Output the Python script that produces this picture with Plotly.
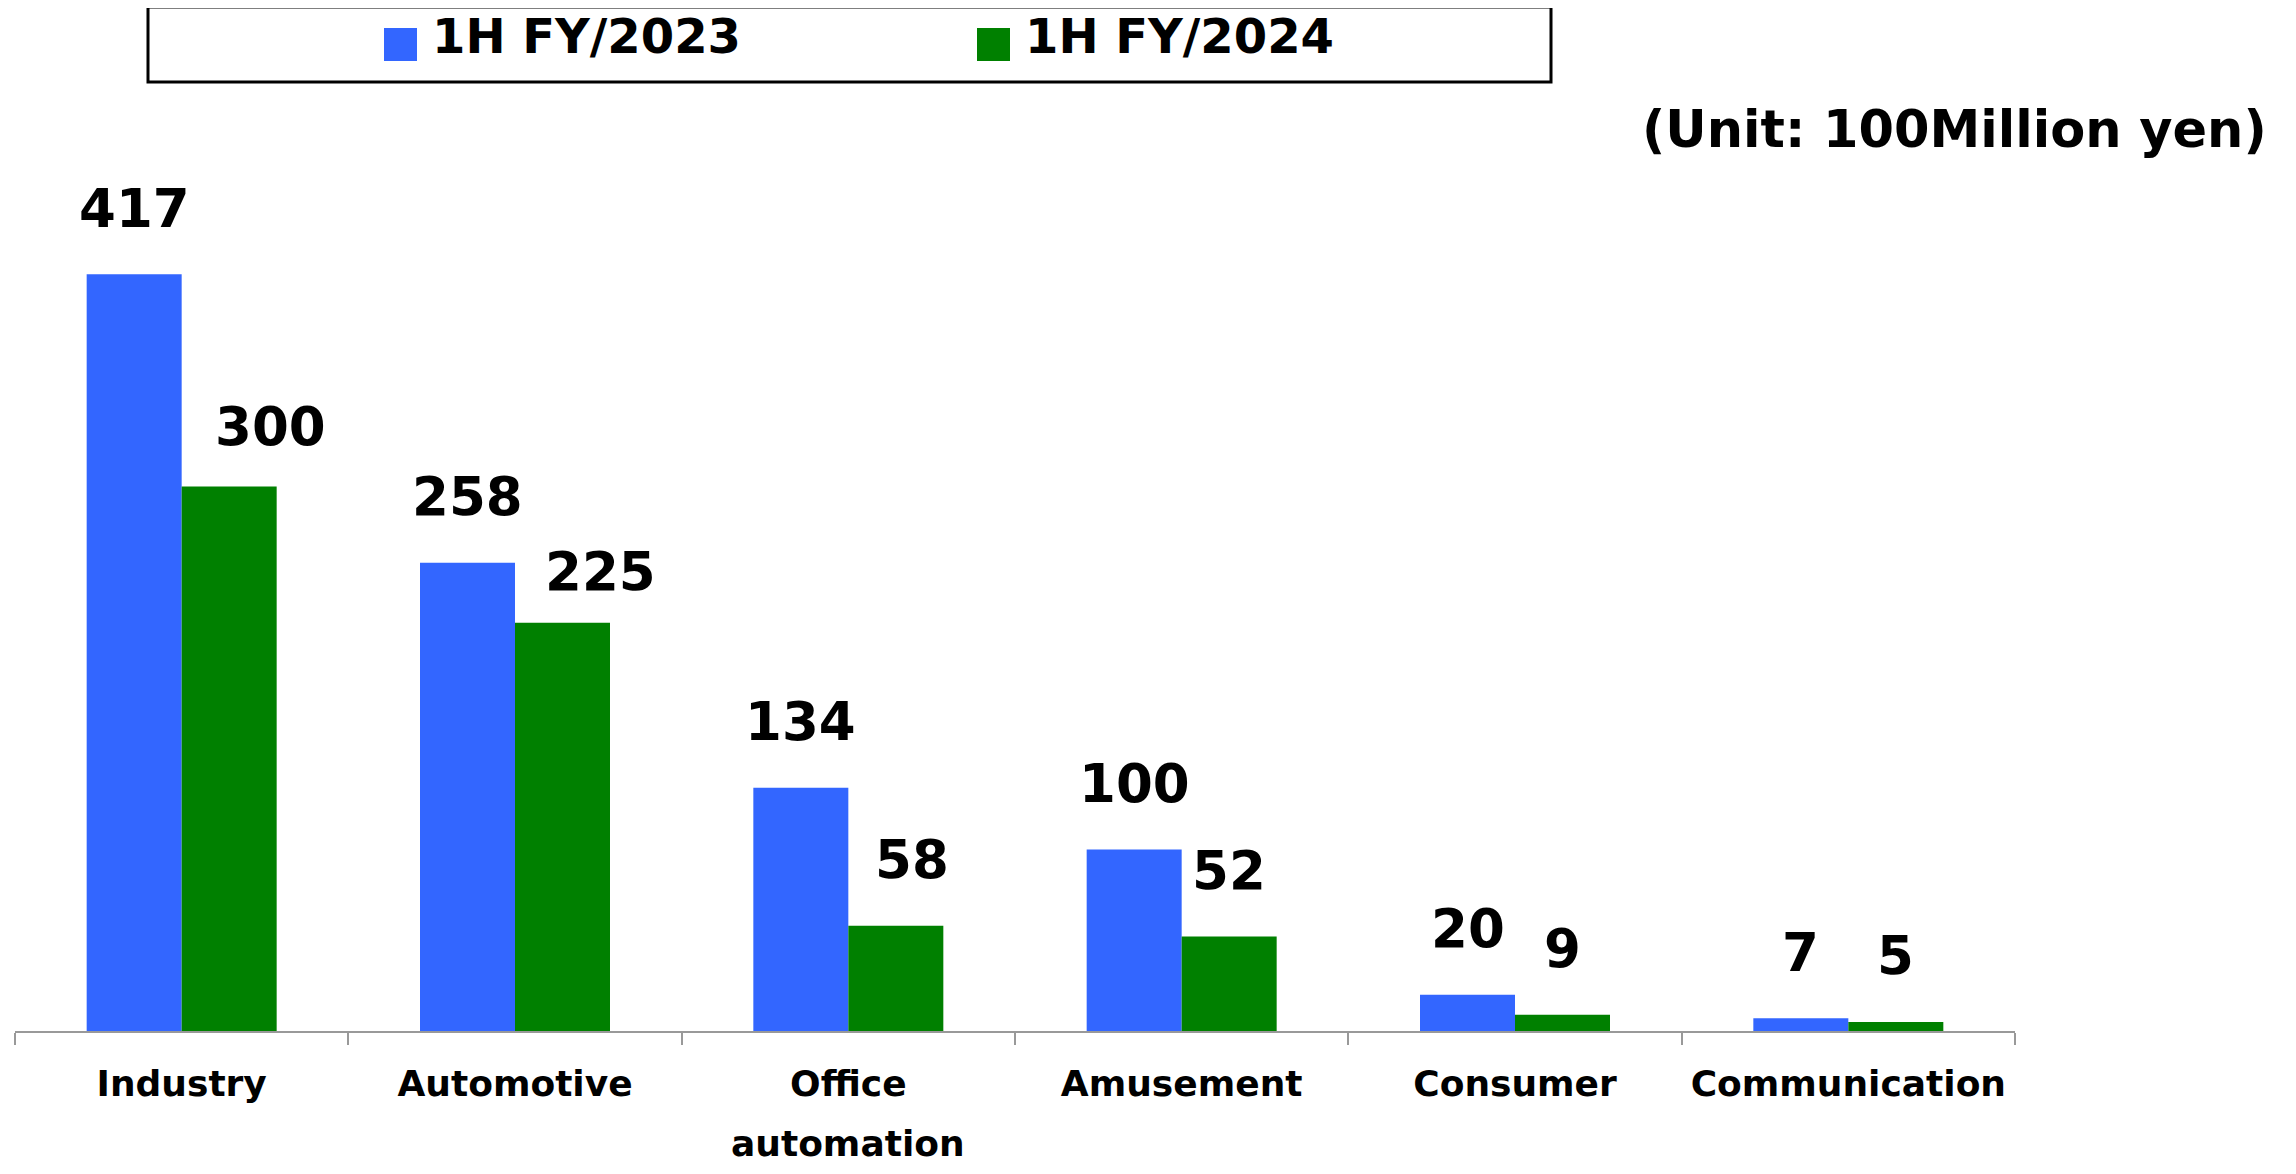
import plotly.graph_objects as go

# ---- data ----
categories = ["Industry", "Automotive", "Office automation", "Amusement", "Consumer", "Communication"]
tick_labels = ["Industry", "Automotive", "Office", "Amusement", "Consumer", "Communication"]
tick_label_second_line = {"Office automation": "automation"}
series_names = ["1H FY/2023", "1H FY/2024"]
values_2023 = [417, 258, 134, 100, 20, 7]
values_2024 = [300, 225, 58, 52, 9, 5]
unit_text = "(Unit: 100Million yen)"

# ---- style ----
OFF = 8  # page body margin
W, H = 2296 - 2 * OFF, 1174 - 2 * OFF
ML = 15 - OFF
MR = W - (2015 - OFF)
MT = 150 - OFF
MB = H - (1031 - OFF)
PW, PH = W - ML - MR, H - MT - MB
Y_MAX = 485.4
BLUE = "#3366FF"
GREEN = "#008000"
FONT = "DejaVu Sans"
BARGAP = 0.43
bar_px = PW / len(categories) * (1 - BARGAP) / 2
label_dx_2024 = [41, 38, 16, 0, 0, 0]
label_dy_2024 = [-6, -15, 0, 0, 0, 0]
LABEL_DY = 66
LABEL_SIZE = 53


def px_x(p):
    # p: x pixel in the page
    return (p - OFF - ML) / PW


def px_y(p):
    # p: y pixel in the page
    return (H - MB - (p - OFF)) / PH


fig = go.Figure()
fig.add_trace(go.Bar(x=categories, y=values_2023, name=series_names[0],
                     marker=dict(color=BLUE, line=dict(width=0))))
fig.add_trace(go.Bar(x=categories, y=values_2024, name=series_names[1],
                     marker=dict(color=GREEN, line=dict(width=0))))

annotations = []
for i, c in enumerate(categories):
    annotations.append(dict(x=c, y=values_2023[i], xref="x", yref="y", text=str(values_2023[i]),
                            showarrow=False, xanchor="center", yanchor="middle",
                            xshift=-bar_px / 2, yshift=LABEL_DY,
                            font=dict(family=FONT, size=LABEL_SIZE, weight="bold", color="black")))
    annotations.append(dict(x=c, y=values_2024[i], xref="x", yref="y", text=str(values_2024[i]),
                            showarrow=False, xanchor="center", yanchor="middle",
                            xshift=bar_px / 2 + label_dx_2024[i], yshift=LABEL_DY + label_dy_2024[i],
                            font=dict(family=FONT, size=LABEL_SIZE, weight="bold", color="black")))
for c, t in tick_label_second_line.items():
    annotations.append(dict(x=c, y=0, xref="x", yref="y", text=t, showarrow=False,
                            xanchor="center", yanchor="middle", yshift=-112,
                            font=dict(family=FONT, size=36, weight="bold", color="black")))

# unit text
annotations.append(dict(x=px_x(2269), y=px_y(130), xref="paper", yref="paper", text=unit_text,
                        showarrow=False, xanchor="right", yanchor="middle",
                        font=dict(family=FONT, size=51, weight="bold", color="black")))

# manual legend
shapes = [dict(type="rect", xref="paper", yref="paper",
               x0=px_x(148), x1=px_x(1551), y0=px_y(82), y1=px_y(7),
               line=dict(color="black", width=3), fillcolor="white", layer="below")]
legend_items = [(series_names[0], BLUE, 384), (series_names[1], GREEN, 977)]
for name, col, x0 in legend_items:
    shapes.append(dict(type="rect", xref="paper", yref="paper",
                       x0=px_x(x0), x1=px_x(x0 + 33), y0=px_y(61), y1=px_y(28),
                       line=dict(width=0), fillcolor=col))
    annotations.append(dict(x=px_x(x0 + 46), y=px_y(36), xref="paper", yref="paper", text=name,
                            showarrow=False, xanchor="left", yanchor="middle",
                            font=dict(family=FONT, size=48, weight="bold", color="black")))

fig.update_layout(
    width=W, height=H,
    margin=dict(l=ML, r=MR, t=MT, b=MB, pad=0),
    paper_bgcolor="white", plot_bgcolor="white",
    barmode="group", bargap=BARGAP, bargroupgap=0,
    showlegend=False,
    annotations=annotations, shapes=shapes,
    xaxis=dict(
        type="category", tickmode="array", tickvals=categories, ticktext=tick_labels,
        tickson="boundaries", ticks="outside", ticklen=12, tickwidth=2, tickcolor="#999999",
        showline=True, linecolor="#999999", linewidth=2, showgrid=False,
        tickfont=dict(family=FONT, size=36, weight="bold", color="black"),
        ticklabelstandoff=20,
    ),
    yaxis=dict(range=[0, Y_MAX], visible=False, showgrid=False, zeroline=False),
)

fig.write_html("out.html")
